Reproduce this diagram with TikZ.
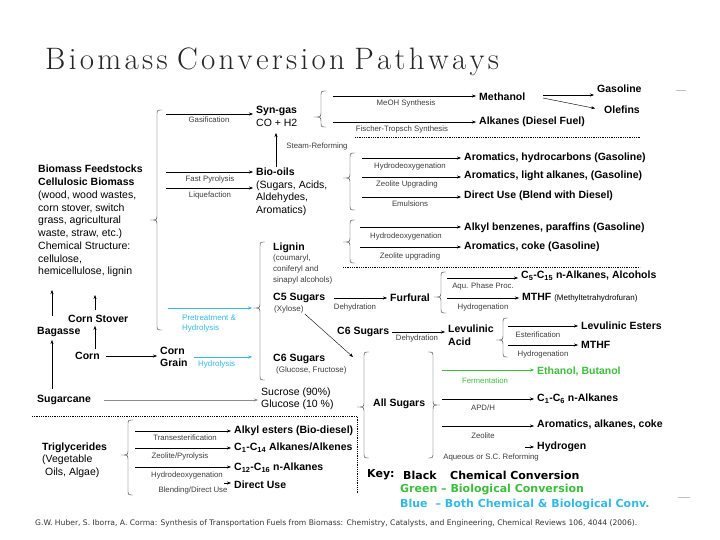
\documentclass[tikz,border=0pt]{standalone}
\usepackage{fontspec}
\setsansfont{Liberation Sans}
\newfontfamily\keyfont{DejaVu Sans}
\usetikzlibrary{arrows.meta}
\definecolor{bioGreen}{RGB}{60,190,60}
\definecolor{bothBlue}{RGB}{50,185,230}
\definecolor{procGray}{RGB}{60,60,60}
\makeatletter
\newcommand{\spreadword}[1]{\@tfor\spr@ch:=#1\do{\spr@ch\kern3.3pt}\unkern}
\makeatother
\tikzset{
  mainlbl/.style={
    anchor = west,
    inner sep = 1pt,
    align = left,
    font = \sffamily\bfseries\fontsize{10.5}{12.5}\selectfont
  },
  prodlbl/.style={
    anchor = west,
    inner sep = 1pt,
    font = \sffamily\bfseries\fontsize{10.5}{12}\selectfont
  },
  sublbl/.style={
    anchor = west,
    inner sep = 1pt,
    align = left,
    font = \sffamily\fontsize{10.5}{12.5}\selectfont
  },
  smalllbl/.style={
    anchor = west,
    inner sep = 1pt,
    align = left,
    text = procGray,
    font = \sffamily\fontsize{8}{10.7}\selectfont
  },
  proclbl/.style={
    inner sep = 0pt,
    text = procGray,
    font = \sffamily\fontsize{7.8}{9}\selectfont
  },
  keylbl/.style={
    anchor = west,
    inner sep = 0pt,
    font = \keyfont\bfseries\fontsize{11}{13}\selectfont
  },
  conv/.style={
    thin,
    -{Stealth[length=4pt,width=3pt]},
    shorten >=2pt
  },
  bioconv/.style={conv, bioGreen},
  bothconv/.style={conv, bothBlue},
  divider/.style={densely dotted, thick},
  curl/.style={thin, black!80}
}
% curly brace: x, top, tip, bottom, direction (1 = opens right, -1 = opens left)
\newcommand{\curly}[5]{%
  \draw[curl] ({#1+5*(#5)},#2) .. controls (#1,#2) .. (#1,#2+5)
    -- (#1,#3-5) .. controls (#1,#3) .. ({#1-7*(#5)},#3)
    .. controls (#1,#3) .. (#1,#3+5)
    -- (#1,#4-5) .. controls (#1,#4) .. ({#1+5*(#5)},#4);}

\begin{document}
\begin{tikzpicture}[x=1pt,y=-1pt]
    \useasboundingbox (0,0) rectangle (720,540);
    \node[anchor=west, inner sep=0pt, text=black!85, font=\fontsize{31}{32}\selectfont] (title) at (45,62) {\spreadword{Biomass} \spreadword{Conversion} \spreadword{Pathways}};

    % feedstocks
    \node[sublbl, anchor=north west, font=\sffamily\fontsize{10.5}{12.75}\selectfont] (feed) at (37,164) {\textbf{Biomass Feedstocks}\\\textbf{Cellulosic Biomass}\\(wood, wood wastes,\\corn stover, switch\\grass, agricultural\\waste, straw, etc.)\\Chemical Structure:\\cellulose,\\hemicellulose, lignin};
    \node[mainlbl] (bagasse) at (36,332) {Bagasse};
    \node[mainlbl] (stover) at (67,319) {Corn Stover};
    \node[mainlbl] (corn) at (74,356) {Corn};
    \node[mainlbl] (grain) at (159,357) {Corn\\Grain};
    \node[mainlbl] (cane) at (36,400) {Sugarcane};
    \coordinate (colA) at (52,288);
    \coordinate (colB) at (95,293);
    \draw[conv, shorten <=10pt] (colA |- bagasse.north) -- (colA);
    \draw[conv, shorten <=4pt] (colB |- stover.north) -- (colB);
    \draw[conv, shorten <=2pt] (colB |- corn.north) -- (colB |- stover.south);
    \draw[conv, shorten <=5pt] (colA |- cane.north) -- (colA |- bagasse.south);
    \draw[conv, shorten <=5pt] (corn.east) -- (corn.east -| grain.west);

    % main brace and first routes
    \curly{157}{110}{220}{330}{1}
    \node[mainlbl] (syngas) at (255,116.5) {Syn-gas\\\mdseries CO + H2};
    \node[sublbl, anchor=north west] (biooils) at (255,167) {\textbf{Bio-oils}\\(Sugars, Acids,\\Aldehydes,\\Aromatics)};
    \coordinate (gasS) at (166,114);
    \coordinate (fpS) at (166,172);
    \coordinate (lqS) at (166,188);
    \draw[conv] (gasS) -- (gasS -| syngas.west);
    \draw[conv] (fpS) -- (fpS -| biooils.west);
    \draw[conv] (lqS) -- (lqS -| biooils.west);
    \node[proclbl] at (209,120) {Gasification};
    \node[proclbl] at (210,179) {Fast Pyrolysis};
    \node[proclbl] at (210,195) {Liquefaction};
    \coordinate (srS) at (276,131);
    \draw[conv] (srS |- biooils.north) -- (srS);
    \node[proclbl] at (317,146) {Steam-Reforming};

    % syn-gas routes
    \curly{321}{91}{117}{127}{1}
    \node[prodlbl] (methanol) at (478,97) {Methanol};
    \node[prodlbl] (alkD) at (478,122) {Alkanes (Diesel Fuel)};
    \node[prodlbl] (gasoline) at (596,89) {Gasoline};
    \node[prodlbl] (olefins) at (603,110) {Olefins};
    \coordinate (meS) at (333,96);
    \coordinate (ftS) at (333,122);
    \draw[conv] (meS) -- (meS -| methanol.west);
    \draw[conv] (ftS) -- (ftS -| alkD.west);
    \node[proclbl] at (406,103) {MeOH Synthesis};
    \node[proclbl] at (402,129) {Fischer-Tropsch Synthesis};
    \coordinate (mgS) at (543,95);
    \coordinate (moS) at (543,98);
    \draw[conv] (mgS) -- (mgS -| gasoline.west);
    \draw[conv, shorten >=8pt] (moS) -- (olefins.west);
    \draw[divider] (355,137) -- (640,137);

    % bio-oil upgrading
    \curly{350}{153}{178}{210}{1}
    \node[prodlbl] (aroHC) at (463,158) {Aromatics, hydrocarbons (Gasoline)};
    \node[prodlbl] (aroLA) at (463,176) {Aromatics, light alkanes, (Gasoline)};
    \node[prodlbl] (blend) at (463,196) {Direct Use (Blend with Diesel)};
    \coordinate (h1S) at (362,158);
    \coordinate (z1S) at (362,177);
    \coordinate (emS) at (362,197);
    \draw[conv] (h1S) -- (h1S -| aroHC.west);
    \draw[conv] (z1S) -- (z1S -| aroLA.west);
    \draw[conv] (emS) -- (emS -| blend.west);
    \node[proclbl] at (410,166) {Hydrodeoxygenation};
    \node[proclbl] at (407,184) {Zeolite Upgrading};
    \node[proclbl] at (410,204) {Emulsions};

    % lignin upgrading
    \curly{350}{220}{242}{263}{1}
    \node[prodlbl] (alkBz) at (463,228) {Alkyl benzenes, paraffins (Gasoline)};
    \node[prodlbl] (aroCk) at (463,247) {Aromatics, coke (Gasoline)};
    \coordinate (h2S) at (360,227);
    \coordinate (z2S) at (360,247);
    \draw[conv] (h2S) -- (h2S -| alkBz.west);
    \draw[conv] (z2S) -- (z2S -| aroCk.west);
    \node[proclbl] at (406,236) {Hydrodeoxygenation};
    \node[proclbl] at (410,256) {Zeolite upgrading};
    \draw[divider] (343,267) -- (640,267);

    % cellulose fractions
    \curly{260}{242}{308}{380}{1}
    \coordinate (cellTip) at (254,308);
    \coordinate (ptS) at (168,308);
    \draw[bothconv] (ptS) -- (cellTip);
    \node[smalllbl, text=bothBlue] at (181,318) {Pretreatment \&};
    \node[smalllbl, text=bothBlue] at (181,328) {Hydrolysis};
    \draw[bothconv, shorten <=5pt] (grain.east) -- (grain.east -| cellTip);
    \node[smalllbl, text=bothBlue] at (197,364) {Hydrolysis};
    \node[mainlbl] (lignin) at (272,248) {Lignin};
    \node[smalllbl, anchor=north west] (ligninTxt) at (272,254) {(coumaryl,\\coniferyl and\\sinapyl alcohols)};
    \node[mainlbl] (c5) at (272,298) {C5 Sugars};
    \node[smalllbl] (xylose) at (273,309) {(Xylose)};
    \node[mainlbl] (c6a) at (336,332) {C6 Sugars};
    \node[mainlbl] (c6b) at (272,359) {C6 Sugars};
    \node[smalllbl] (glucose) at (275,370) {(Glucose, Fructose)};
    \node[sublbl, font=\sffamily\fontsize{10.5}{12}\selectfont] (sucrose) at (260,399) {Sucrose (90\%)\\Glucose (10 \%)};
    \draw[conv, black!45, shorten <=12pt] (cane.east) -- (cane.east -| sucrose.west);

    % furfural
    \node[mainlbl] (furfural) at (389,298) {Furfural};
    \draw[conv, shorten <=8pt] (c5.east) -- (c5.east -| furfural.west);
    \node[proclbl] at (355,307) {Dehydration};
    \curly{441}{272}{297}{313}{1}
    \node[prodlbl] (cAlk) at (520,276) {C\textsubscript{5}-C\textsubscript{15} n-Alkanes, Alcohols};
    \node[prodlbl] (mthfA) at (521,298) {MTHF {\mdseries\fontsize{8}{9}\selectfont (Methyltetrahydrofuran)}};
    \coordinate (aqS) at (447,278);
    \coordinate (hyS) at (447,298);
    \draw[conv] (aqS) -- (aqS -| cAlk.west);
    \draw[conv] (hyS) -- (hyS -| mthfA.west);
    \node[proclbl] at (483,286) {Aqu. Phase Proc.};
    \node[proclbl] at (483,307) {Hydrogenation};

    % levulinic acid
    \node[mainlbl] (levulinic) at (447,335) {Levulinic\\Acid};
    \draw[conv, shorten <=2pt] (c6a.east) -- (c6a.east -| levulinic.west);
    \node[proclbl] at (417,338) {Dehydration};
    \curly{503}{318}{340}{357}{1}
    \node[prodlbl] (levEst) at (580,326) {Levulinic Esters};
    \node[prodlbl] (mthfB) at (580,345) {MTHF};
    \coordinate (esS) at (508,326);
    \coordinate (hgS) at (508,345);
    \draw[conv] (esS) -- (esS -| levEst.west);
    \draw[conv] (hgS) -- (hgS -| mthfB.west);
    \node[proclbl] at (538,335) {Esterification};
    \node[proclbl] at (543,354) {Hydrogenation};

    % all sugars
    \coordinate (sugTop) at (353,357);
    \draw[conv, shorten >=0pt] (xylose.south east) -- (sugTop);
    \curly{364}{352}{407}{458}{1}
    \node[mainlbl] (allSugars) at (372,404) {All Sugars};
    \curly{433}{352}{405}{458}{-1}
    \node[prodlbl, text=bioGreen] (ethanol) at (536,372) {Ethanol, Butanol};
    \node[prodlbl] (c1c6) at (536,399) {C\textsubscript{1}-C\textsubscript{6} n-Alkanes};
    \node[prodlbl] (aroAlk) at (536,425) {Aromatics, alkanes, coke};
    \node[prodlbl] (hydrogen) at (536,447) {Hydrogen};
    \coordinate (feS) at (442,370);
    \coordinate (apS) at (442,399);
    \coordinate (zeS) at (442,426);
    \coordinate (rfS) at (525,447);
    \draw[bioconv] (feS) -- (feS -| ethanol.west);
    \draw[conv] (apS) -- (apS -| c1c6.west);
    \draw[conv] (zeS) -- (zeS -| aroAlk.west);
    \draw[conv] (rfS) -- (rfS -| hydrogen.west);
    \node[proclbl, text=bioGreen] at (485,381) {Fermentation};
    \node[proclbl] at (483,408) {APD/H};
    \node[proclbl] at (483,436) {Zeolite};
    \node[proclbl] at (491,457) {Aqueous or S.C. Reforming};

    % triglycerides
    \draw[divider] (32,416) -- (357,416) -- (357,494);
    \node[sublbl] (trig) at (41,460) {\textbf{Triglycerides}\\(Vegetable\\\ Oils, Algae)};
    \curly{128}{420}{455}{495}{1}
    \node[prodlbl] (alkEst) at (233,431) {Alkyl esters (Bio-diesel)};
    \node[prodlbl] (c1c14) at (233,448) {C\textsubscript{1}-C\textsubscript{14} Alkanes/Alkenes};
    \node[prodlbl] (c12c16) at (233,468) {C\textsubscript{12}-C\textsubscript{16} n-Alkanes};
    \node[prodlbl] (direct) at (233,485) {Direct Use};
    \coordinate (tsS) at (135,431);
    \coordinate (zpS) at (135,448);
    \coordinate (hdS) at (135,467);
    \coordinate (bdS) at (224,483);
    \draw[conv] (tsS) -- (tsS -| alkEst.west);
    \draw[conv] (zpS) -- (zpS -| c1c14.west);
    \draw[conv] (hdS) -- (hdS -| c12c16.west);
    \draw[conv] (bdS) -- (bdS -| direct.west);
    \node[proclbl] at (185,438) {Transesterification};
    \node[proclbl] at (180,456) {Zeolite/Pyrolysis};
    \node[proclbl] at (187,475) {Hydrodeoxygenation};
    \node[proclbl] at (193,490) {Blending/Direct Use};

    % key
    \node[keylbl] (key) at (367,475) {Key:};
    \node[keylbl] (kBlack) at (403,475) {Black};
    \node[keylbl] (kChem) at (450,475) {Chemical Conversion};
    \node[keylbl, text=bioGreen] (kGreen) at (400,490) {Green – Biological Conversion};
    \node[keylbl, text=bothBlue] (kBlue) at (400,505) {Blue\hspace{8pt}– Both Chemical \& Biological Conv.};

    \node[anchor=west, inner sep=0pt, text=black!80, font=\keyfont\fontsize{7.6}{9}\selectfont] (cite) at (35,523) {G.W. Huber, S. Iborra, A. Corma: Synthesis of Transportation Fuels from Biomass: Chemistry, Catalysts, and Engineering, Chemical Reviews 106, 4044 (2006).};
    \draw[black!25] (676,90) -- (686,90);
    \draw[black!25] (678,497) -- (690,497);
\end{tikzpicture}
\end{document}
